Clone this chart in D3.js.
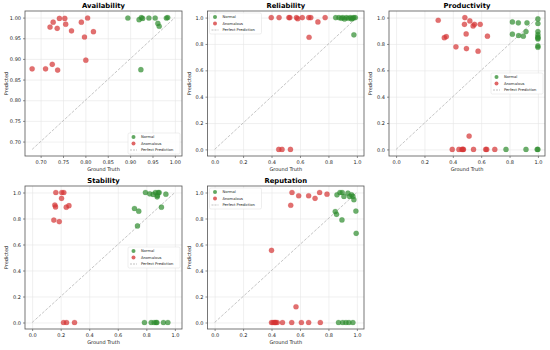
<!DOCTYPE html>
<html>
<head>
<meta charset="utf-8">
<script src="https://cdn.jsdelivr.net/npm/d3@7"></script>
<style>
  body { margin: 0; background: #fff; }
  svg { font-family: "DejaVu Sans", sans-serif; }
</style>
</head>
<body>
<div id="container"></div>
<script>
/* CONSTANTS AND GLOBALS */
const width = 550, height = 350;

/* DATA : [ground truth, predicted] */
const titles = ["Availability", "Reliability", "Productivity", "Stability", "Reputation"];
const seriesNames = ["Normal", "Anomalous", "Perfect Prediction"];

const availNormal = [[0.895,0.999],[0.920,0.995],[0.925,1.0],[0.928,0.998],[0.942,0.999],[0.956,0.999],
  [0.981,0.999],[0.984,1.0],[0.962,0.986],[0.965,0.979],[0.924,0.874]];
const availAnomalous = [[0.681,0.876],[0.711,0.876],[0.726,0.887],[0.738,0.873],[0.721,0.977],[0.728,0.989],
  [0.737,0.974],[0.742,0.998],[0.754,0.998],[0.756,0.984],[0.769,0.968],[0.791,0.989],[0.805,0.999],
  [0.798,0.953],[0.801,0.897],[0.818,0.966]];

const relNormal = [[0.851,1.0],[0.874,1.0],[0.89,0.995],[0.901,1.0],[0.913,0.99],[0.926,1.0],[0.94,0.995],
  [0.954,1.0],[0.963,0.99],[0.977,1.0],[0.989,1.0],[0.97,0.995],[0.979,0.869]];
const relAnomalous = [[0.398,1.0],[0.453,1.0],[0.522,1.0],[0.529,1.0],[0.575,1.0],[0.584,0.992],[0.616,1.0],
  [0.662,1.0],[0.676,1.0],[0.777,1.0],[0.726,0.967],[0.664,0.851],[0.451,0.0],[0.474,0.0],[0.533,0.0]];

const prodNormal = [[0.820,0.967],[0.862,0.96],[0.923,0.96],[0.820,0.874],[0.864,0.864],[0.897,0.859],
  [0.916,0.894],[1.0,0.99],[1.0,0.955],[1.0,0.894],[1.0,0.871],[1.0,0.853],[1.0,0.846],[1.0,0.838],
  [1.0,0.785],[1.0,0.775],[0.775,0.0],[0.916,0.0],[0.995,0.0],[1.0,0.0]];
const prodAnomalous = [[0.297,0.98],[0.340,0.848],[0.354,0.856],[0.422,0.778],[0.485,1.0],[0.482,0.949],
  [0.520,0.975],[0.553,0.949],[0.543,0.937],[0.593,0.949],[0.494,0.876],[0.496,0.765],[0.578,0.745],
  [0.644,0.859],[0.515,0.101],[0.396,0.0],[0.443,0.0],[0.464,0.0],[0.471,0.0],[0.475,0.0],[0.546,0.0],
  [0.632,0.0],[0.639,0.0],[0.696,0.0]];

const stabNormal = [[0.794,1.0],[0.824,0.99],[0.848,0.985],[0.864,1.0],[0.883,1.0],[0.890,1.0],[0.878,0.977],
  [0.937,0.987],[0.876,0.967],[0.906,0.887],[0.717,0.877],[0.747,0.856],[0.738,0.743],[0.787,0.0],
  [0.834,0.0],[0.855,0.0],[0.869,0.0],[0.874,0.0],[0.920,0.0],[0.951,0.0]];
const stabAnomalous = [[0.166,1.0],[0.208,1.0],[0.222,1.0],[0.206,0.955],[0.159,0.904],[0.164,0.889],
  [0.239,0.887],[0.258,0.899],[0.152,0.788],[0.19,0.776],[0.220,0.0],[0.241,0.0],[0.297,0.0]];

const repNormal = [[0.86,0.982],[0.881,1.0],[0.897,1.0],[0.909,0.97],[0.937,0.995],[0.949,0.97],[0.963,0.982],
  [0.972,0.97],[0.979,0.945],[0.993,0.857],[0.995,0.686],[0.848,0.854],[0.857,0.832],[0.895,0.789],
  [0.871,0.0],[0.9,0.0],[0.923,0.0],[0.944,0.0],[0.972,0.0]];
const repAnomalous = [[0.544,1.0],[0.591,0.975],[0.661,0.975],[0.706,0.955],[0.738,1.0],[0.79,0.987],
  [0.535,0.902],[0.40,0.555],[0.572,0.121],[0.40,0.0],[0.41,0.0],[0.42,0.0],[0.425,0.0],[0.43,0.0],
  [0.44,0.0],[0.477,0.0],[0.542,0.0],[0.610,0.0],[0.661,0.0],[0.743,0.0]];

const normalSets = [availNormal, relNormal, prodNormal, stabNormal, repNormal];
const anomalousSets = [availAnomalous, relAnomalous, prodAnomalous, stabAnomalous, repAnomalous];
const tickSets = [
  [0.70, 0.75, 0.80, 0.85, 0.90, 0.95, 1.00],
  [0.0, 0.2, 0.4, 0.6, 0.8, 1.0],
  [0.0, 0.2, 0.4, 0.6, 0.8, 1.0],
  [0.0, 0.2, 0.4, 0.6, 0.8, 1.0],
  [0.0, 0.2, 0.4, 0.6, 0.8, 1.0]
];
const tickFormats = [".2f", ".1f", ".1f", ".1f", ".1f"];

/* LAYOUT */
const panels = [
  { x0: 25, x1: 182, y0: 11, y1: 156, legend: "lower right" },
  { x0: 207.5, x1: 364, y0: 11, y1: 156, legend: "upper left" },
  { x0: 389, x1: 545, y0: 11, y1: 156, legend: "center right" },
  { x0: 25, x1: 182, y0: 186, y1: 329, legend: "center right" },
  { x0: 207.5, x1: 364, y0: 186, y1: 329, legend: "upper left" }
];
const colNormal = "#2e8b2e", colAnom = "#d43333";

const svg = d3.select("#container").append("svg")
  .attr("width", width).attr("height", height);

panels.forEach((p, i) => {
  const normal = normalSets[i], anom = anomalousSets[i];
  const all = normal.concat(anom).flat();
  const lo = d3.min(all), hi = d3.max(all);
  const pad = (hi - lo) * 0.05;

  const xScale = d3.scaleLinear().domain([lo - pad, hi + pad]).range([p.x0, p.x1]);
  const yScale = d3.scaleLinear().domain([lo - pad, hi + pad]).range([p.y1, p.y0]);
  const g = svg.append("g");
  const fmt = d3.format(tickFormats[i]);

  // grid
  g.append("g").attr("transform", `translate(0,${p.y1})`)
    .call(d3.axisBottom(xScale).tickValues(tickSets[i]).tickSize(-(p.y1 - p.y0)).tickFormat(""))
    .call(a => a.select(".domain").remove())
    .selectAll("line").attr("stroke", "#e6e6e6").attr("stroke-width", 0.6);
  g.append("g").attr("transform", `translate(${p.x0},0)`)
    .call(d3.axisLeft(yScale).tickValues(tickSets[i]).tickSize(-(p.x1 - p.x0)).tickFormat(""))
    .call(a => a.select(".domain").remove())
    .selectAll("line").attr("stroke", "#e6e6e6").attr("stroke-width", 0.6);

  // axes
  const xa = g.append("g").attr("transform", `translate(0,${p.y1})`)
    .call(d3.axisBottom(xScale).tickValues(tickSets[i]).tickFormat(fmt).tickSize(2).tickPadding(2));
  const ya = g.append("g").attr("transform", `translate(${p.x0},0)`)
    .call(d3.axisLeft(yScale).tickValues(tickSets[i]).tickFormat(fmt).tickSize(2).tickPadding(2));
  [xa, ya].forEach(a => {
    a.select(".domain").remove();
    a.selectAll("line").attr("stroke", "#444").attr("stroke-width", 0.6);
    a.selectAll("text").attr("font-size", 5).attr("fill", "#222")
      .attr("font-family", "DejaVu Sans, sans-serif");
  });

  // perfect prediction line
  g.append("line")
    .attr("x1", xScale(lo)).attr("y1", yScale(lo))
    .attr("x2", xScale(hi)).attr("y2", yScale(hi))
    .attr("stroke", "#999").attr("stroke-width", 0.7).attr("stroke-dasharray", "3,1.5")
    .attr("opacity", 0.8);

  // points
  g.selectAll(".n").data(normal).join("circle")
    .attr("cx", d => xScale(d[0])).attr("cy", d => yScale(d[1])).attr("r", 2.6)
    .attr("fill", colNormal).attr("fill-opacity", 0.7)
    .attr("stroke", colNormal).attr("stroke-opacity", 0.5).attr("stroke-width", 0.3);
  g.selectAll(".a").data(anom).join("circle")
    .attr("cx", d => xScale(d[0])).attr("cy", d => yScale(d[1])).attr("r", 2.6)
    .attr("fill", colAnom).attr("fill-opacity", 0.7)
    .attr("stroke", colAnom).attr("stroke-opacity", 0.5).attr("stroke-width", 0.3);

  // frame
  g.append("rect").attr("x", p.x0).attr("y", p.y0)
    .attr("width", p.x1 - p.x0).attr("height", p.y1 - p.y0)
    .attr("fill", "none").attr("stroke", "#555").attr("stroke-width", 0.8);

  // title + labels
  const cx = (p.x0 + p.x1) / 2;
  g.append("text").attr("x", cx).attr("y", p.y0 - 3).attr("text-anchor", "middle")
    .attr("font-size", 6.8).attr("font-weight", "bold").text(titles[i]);
  g.append("text").attr("x", cx).attr("y", p.y1 + 15).attr("text-anchor", "middle")
    .attr("font-size", 5).attr("fill", "#222").text("Ground Truth");
  g.append("text").attr("transform", `translate(${p.x0 - 17},${(p.y0 + p.y1) / 2}) rotate(-90)`)
    .attr("text-anchor", "middle").attr("font-size", 5).attr("fill", "#222").text("Predicted");

  // legend
  const lw = 52, lh = 21;
  let lx, ly;
  if (p.legend === "lower right") { lx = p.x1 - lw - 2; ly = p.y1 - lh - 2; }
  else if (p.legend === "upper left") { lx = p.x0 + 2; ly = p.y0 + 2; }
  else { lx = p.x1 - lw - 2; ly = (p.y0 + p.y1) / 2 - lh / 2; }
  const lg = g.append("g").attr("transform", `translate(${lx},${ly})`);
  lg.append("rect").attr("width", lw).attr("height", lh).attr("rx", 1.5)
    .attr("fill", "#fff").attr("fill-opacity", 0.85).attr("stroke", "#ddd").attr("stroke-width", 0.5);
  seriesNames.forEach((name, k) => {
    const yy = 4 + k * 6.5;
    if (k < 2) {
      lg.append("circle").attr("cx", 5.5).attr("cy", yy).attr("r", 2)
        .attr("fill", k === 0 ? colNormal : colAnom).attr("fill-opacity", 0.75);
    } else {
      lg.append("line").attr("x1", 2).attr("x2", 9).attr("y1", yy).attr("y2", yy)
        .attr("stroke", "#999").attr("stroke-width", 0.6).attr("stroke-dasharray", "2,1");
    }
    lg.append("text").attr("x", 13).attr("y", yy + 1.3).attr("font-size", 3.7)
      .attr("fill", "#222").text(name);
  });
});
</script>
</body>
</html>
